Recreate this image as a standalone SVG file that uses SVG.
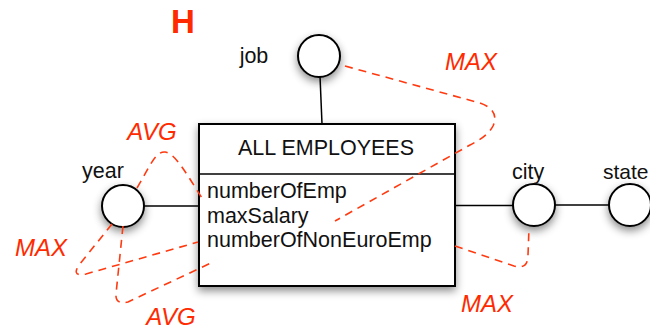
<svg xmlns="http://www.w3.org/2000/svg" width="650" height="330" viewBox="0 0 650 330">
  <defs>
    <filter id="shadow" x="-30%" y="-30%" width="160%" height="170%">
      <feDropShadow dx="0" dy="4" stdDeviation="4" flood-color="#000" flood-opacity="0.45"/>
    </filter>
    <style>
      .node { fill: #fff; stroke: #000; stroke-width: 2; filter: url(#shadow); }
      .link { stroke: #000; stroke-width: 1.5; fill: none; }
      .lbl { font-family: "Liberation Sans", Arial, Helvetica, sans-serif; font-size: 21.5px; fill: #111; }
      .agg { stroke: #ff3a10; stroke-width: 1.6; stroke-dasharray: 8 6; fill: none; }
      .op { font-family: "Liberation Sans", Arial, Helvetica, sans-serif; font-size: 24px; font-style: italic; fill: #ff2a00; }
    </style>
  </defs>
  <rect width="650" height="330" fill="#fff"/>

  <text x="183" y="33" text-anchor="middle" font-family="Liberation Sans, Arial, sans-serif" font-size="33" font-weight="bold" fill="#ff2a00">H</text>

  <!-- structural connectors -->
  <g id="connectors">
    <line class="link" x1="320" y1="76" x2="322" y2="124"/>
    <line class="link" x1="144" y1="206" x2="199" y2="206"/>
    <line class="link" x1="455" y1="205.5" x2="513" y2="205.5"/>
    <line class="link" x1="555" y1="205" x2="609" y2="205"/>
  </g>

  <!-- fact table -->
  <g id="all-employees">
    <rect class="node" x="199" y="124" width="256" height="162"/>
    <line x1="199" y1="174" x2="455" y2="174" stroke="#000" stroke-width="1.5"/>
    <text class="lbl" x="326" y="155" text-anchor="middle">ALL EMPLOYEES</text>
    <text class="lbl" x="207" y="198">numberOfEmp</text>
    <text class="lbl" x="207" y="223">maxSalary</text>
    <text class="lbl" x="207" y="247">numberOfNonEuroEmp</text>
  </g>

  <!-- dimension attributes -->
  <g id="job">
    <circle class="node" cx="319" cy="56" r="21"/>
    <text class="lbl" x="254" y="63" text-anchor="middle">job</text>
  </g>
  <g id="year">
    <circle class="node" cx="123" cy="206" r="21"/>
    <text class="lbl" x="103" y="178" text-anchor="middle">year</text>
  </g>
  <g id="city">
    <circle class="node" cx="534" cy="205" r="21"/>
    <text class="lbl" x="528" y="179" text-anchor="middle">city</text>
  </g>
  <g id="state">
    <circle class="node" cx="630" cy="205" r="21"/>
    <text class="lbl" x="603" y="179" style="font-size:21px">state</text>
  </g>

  <!-- aggregation annotations -->
  <g id="aggregations">
    <path class="agg" d="M345,66 L480,103 Q500,110 493,126 Q488,136 470,145 L335,221"/>
    <path class="agg" d="M137,188 C148,170 155,151 165,152 C176,153 190,180 202,198"/>
    <path class="agg" d="M112,224 L79,265 Q71,277 86,274 L198,242"/>
    <path class="agg" d="M123,226 L116,294 Q115,305 128,302 L213,262"/>
    <path class="agg" d="M455,246 L514,266 Q528,270 528,255 L529,228"/>
  </g>
  <text class="op" x="471" y="70" text-anchor="middle">MAX</text>
  <text class="op" x="152" y="140" text-anchor="middle">AVG</text>
  <text class="op" x="41" y="256" text-anchor="middle">MAX</text>
  <text class="op" x="171" y="325" text-anchor="middle">AVG</text>
  <text class="op" x="487" y="312" text-anchor="middle">MAX</text>
</svg>
